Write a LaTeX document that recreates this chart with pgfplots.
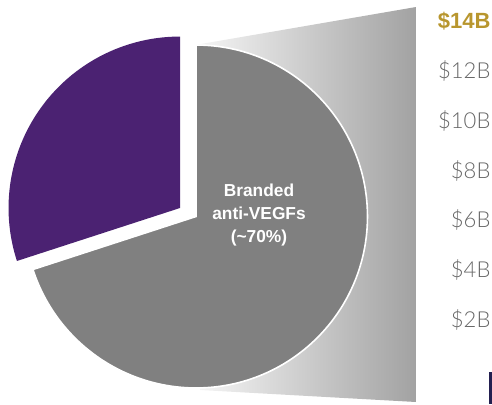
\documentclass[border=0pt]{standalone}
\usepackage{pgfplots}
\pgfplotsset{compat=1.18}
\usepackage{fontspec}
\setmainfont{Liberation Sans}
\newfontfamily\lightfont{Lato Light}
\definecolor{piegray}{HTML}{808080}
\definecolor{piepurple}{HTML}{4B2272}
\definecolor{tickgray}{HTML}{666666}
\definecolor{gold}{HTML}{B8962E}
\definecolor{navy}{HTML}{231F50}
\definecolor{gradlight}{HTML}{F6F6F6}
\definecolor{graddark}{HTML}{A2A2A2}
% shares of the pie (percent)
\def\branded{70}
\def\other{30}
\begin{document}
\begin{tikzpicture}
\useasboundingbox (0,0) rectangle (369pt,303pt);
% pixel-unit axis for pie and shapes
\begin{axis}[at={(0,0)}, anchor=south west, scale only axis,
  width=369pt, height=303pt, xmin=0, xmax=492, ymin=0, ymax=404,
  hide axis, clip=false]
  % gradient wedge
  \shade[left color=gradlight, right color=graddark]
    (axis cs:195,359) -- (axis cs:416,397) -- (axis cs:416,2) -- (axis cs:200,14) -- cycle;
  % branded anti-VEGFs slice
  \fill[piegray, draw=white, line width=1.2pt]
    (axis cs:196,187.5) -- ++(90:128.6pt)
    arc[start angle=90, end angle={90-\branded*3.6}, radius=128.6pt] -- cycle;
  % other slice (exploded)
  \fill[piepurple]
    (axis cs:180,196) -- ++(90:128.6pt)
    arc[start angle=90, end angle={90+\other*3.6}, radius=128.6pt] -- cycle;
  \node[text=white, align=center, font=\bfseries\fontsize{13}{17}\selectfont]
    at (axis cs:259,189) {Branded\\anti-VEGFs\\(\textasciitilde70\%)};
  % cut-off bar at lower right
  \fill[navy] (axis cs:489,0) rectangle (axis cs:493,32);
\end{axis}
% value axis for the $B tick labels
\begin{axis}[at={(0,0)}, anchor=south west, scale only axis,
  width=369pt, height=303pt, xmin=0, xmax=1, ymin=-1.37, ymax=14.84,
  hide x axis, y axis line style={draw=none}, major tick length=0pt,
  yticklabel pos=right, ytick={2,4,6,8,10,12,14},
  yticklabels={\$2B,\$4B,\$6B,\$8B,\$10B,\$12B,{\normalfont\bfseries\textcolor{gold}{\$14B}}},
  yticklabel style={font=\lightfont\fontsize{16.5}{18}\selectfont, text=tickgray,
    anchor=east, inner sep=0pt, xshift=-1pt}]
  \addplot[draw=none] coordinates {(0,0) (1,14)};
\end{axis}
\end{tikzpicture}
\end{document}
